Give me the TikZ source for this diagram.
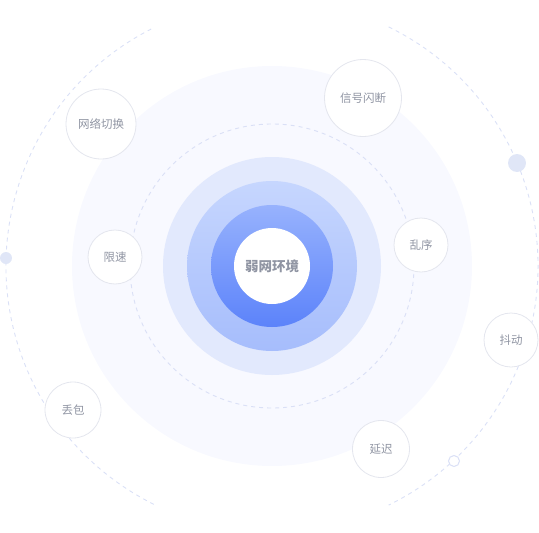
\documentclass[tikz,border=0pt]{standalone}
\usepackage{fontspec}
\usetikzlibrary{calc}
\newfontfamily\cjk{Noto Sans CJK SC}
\definecolor{faint}{HTML}{F8F9FF}
\definecolor{pale}{HTML}{E2E9FD}
\definecolor{ringtop}{HTML}{C6D6FE}
\definecolor{ringbot}{HTML}{A6BDFC}
\definecolor{coretop}{HTML}{97B2FD}
\definecolor{corebot}{HTML}{5C83FA}
\definecolor{dashcol}{HTML}{DAE0F6}
\definecolor{nodeline}{HTML}{E4E6EE}
\definecolor{txt}{HTML}{9095A3}
\definecolor{dotcol}{HTML}{E0E6F7}
\tikzset{
  bubble/.style={circle, fill=white, draw=nodeline, line width=0.8pt, inner sep=0pt,
    font=\cjk\fontsize{11.5}{12}\selectfont, text=txt},
  dashring/.style={draw=dashcol, line width=0.9pt, dash pattern=on 4pt off 4pt},
}
\begin{document}
\begin{tikzpicture}[x=1pt,y=-1pt]
\useasboundingbox (0,0) rectangle (539,533);
\coordinate (c) at (272,266);
% outer dashed arcs
\draw[dashring] ($(c)+(-117:266)$) arc[start angle=-117, end angle=-244, radius=266];
\draw[dashring] ($(c)+(-64:266)$) arc[start angle=-64, end angle=64, radius=266];
% big faint disc
\fill[faint] (c) circle (200);
% inner dashed circle
\draw[dashring] (c) circle (142);
% rings
\fill[pale] (c) circle (109);
\shade[top color=ringtop, bottom color=ringbot] (c) circle (85);
\shade[top color=coretop, bottom color=corebot] (c) circle (61);
\node[circle, fill=white, minimum size=76pt, inner sep=0pt,
  font=\cjk\bfseries\fontsize{13.5}{14}\selectfont, text=txt] (core) at (c) {弱网环境};
% decorations on outer ring
\fill[dotcol] (6,258) circle (6);
\fill[dotcol] (517,163) circle (9);
\draw[dashcol, fill=white, line width=1pt] (454,461) circle (5.5);
% bubbles
\node[bubble, minimum size=70pt] (switch) at (101,124) {网络切换};
\node[bubble, minimum size=77pt] (signal) at (363,98) {信号闪断};
\node[bubble, minimum size=54pt] (order) at (421,245) {乱序};
\node[bubble, minimum size=54pt] (limit) at (115,257) {限速};
\node[bubble, minimum size=54pt] (jitter) at (511,340) {抖动};
\node[bubble, minimum size=56pt] (loss) at (73,410) {丢包};
\node[bubble, minimum size=57pt] (delay) at (381,449) {延迟};
\end{tikzpicture}
\end{document}
